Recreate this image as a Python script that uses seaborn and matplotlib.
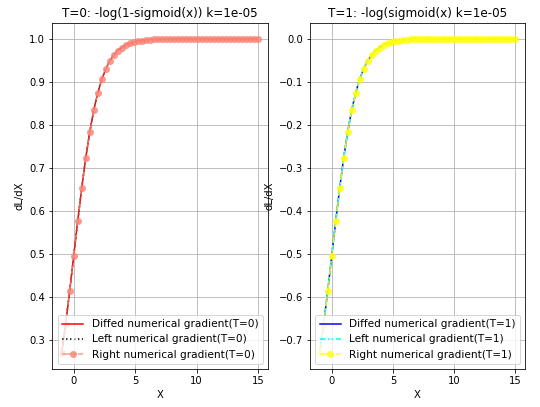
import matplotlib
matplotlib.use("Agg")
import pandas as pd
import seaborn as sns
from matplotlib import pyplot as plt

# sample points
x_vals = [-1.000, -0.673, -0.347, -0.020, 0.306, 0.633, 0.959, 1.286, 1.612, 1.939,
          2.265, 2.592, 2.918, 3.245, 3.571, 3.898, 4.224, 4.551, 4.878, 5.204,
          5.531, 5.857, 6.184, 6.510, 6.837, 7.163, 7.490, 7.816, 8.143, 8.469,
          8.796, 9.122, 9.449, 9.776, 10.102, 10.429, 10.755, 11.082, 11.408, 11.735,
          12.061, 12.388, 12.714, 13.041, 13.367, 13.694, 14.020, 14.347, 14.673, 15.000]

# dL/dX for T=0
grad_t0 = [0.269, 0.338, 0.414, 0.495, 0.576, 0.653, 0.723, 0.783, 0.834, 0.874,
           0.906, 0.930, 0.949, 0.962, 0.973, 0.980, 0.986, 0.990, 0.992, 0.995,
           0.996, 0.997, 0.998, 0.999, 0.999, 0.999, 0.999, 1.000, 1.000, 1.000,
           1.000, 1.000, 1.000, 1.000, 1.000, 1.000, 1.000, 1.000, 1.000, 1.000,
           1.000, 1.000, 1.000, 1.000, 1.000, 1.000, 1.000, 1.000, 1.000, 1.000]

# dL/dX for T=1
grad_t1 = [-0.731, -0.662, -0.586, -0.505, -0.424, -0.347, -0.277, -0.217, -0.166, -0.126,
           -0.094, -0.070, -0.051, -0.038, -0.027, -0.020, -0.014, -0.010, -0.008, -0.005,
           -0.004, -0.003, -0.002, -0.001, -0.001, -0.001, -0.001, 0.000, 0.000, 0.000,
           0.000, 0.000, 0.000, 0.000, 0.000, 0.000, 0.000, 0.000, 0.000, 0.000,
           0.000, 0.000, 0.000, 0.000, 0.000, 0.000, 0.000, 0.000, 0.000, 0.000]

titles = ["T=0: -log(1-sigmoid(x)) k=1e-05", "T=1: -log(sigmoid(x) k=1e-05"]

plt.rcParams['font.size'] = 10
plt.rcParams['font.family'] = ['DejaVu Sans']

fig = plt.figure(figsize=(7.5, 5.653), dpi=72)
ax1 = fig.add_axes([0.096, 0.093, 0.400, 0.850])
ax2 = fig.add_axes([0.574, 0.093, 0.398, 0.850])

df0 = pd.DataFrame({'X': x_vals, 'dLdX': grad_t0})
df1 = pd.DataFrame({'X': x_vals, 'dLdX': grad_t1})

styles = [
    # (df, ax, T, diffed colour, left colour, left ls, right colour)
    (df0, ax1, 0, 'red', 'black', ':', 'salmon'),
    (df1, ax2, 1, 'blue', 'cyan', '--', 'yellow'),
]

for df, ax, t, c_diff, c_left, ls_left, c_right in styles:
    sns.lineplot(data=df, x='X', y='dLdX', ax=ax, color=c_diff, linestyle='-',
                 linewidth=1.5,
                 label='Diffed numerical gradient(T=%d)' % t, errorbar=None)
    sns.lineplot(data=df, x='X', y='dLdX', ax=ax, color=c_left, linestyle=ls_left,
                 marker='x', markersize=4, linewidth=1.5,
                 label='Left numerical gradient(T=%d)' % t, errorbar=None)
    sns.lineplot(data=df, x='X', y='dLdX', ax=ax, color=c_right, linestyle='-.',
                 marker='o', markersize=7, markeredgewidth=0, linewidth=1.5,
                 alpha=0.8, label='Right numerical gradient(T=%d)' % t, errorbar=None)
    ax.set_title(titles[t], fontsize=12)
    ax.set_xlabel('X')
    ax.set_ylabel('dL/dX')
    ax.set_xticks([0, 5, 10, 15])
    ax.grid(True, color='#b0b0b0', linewidth=0.8)
    ax.legend(loc='lower right', fontsize=10.5, borderaxespad=0.5)

plt.savefig('out.png', dpi=72)
